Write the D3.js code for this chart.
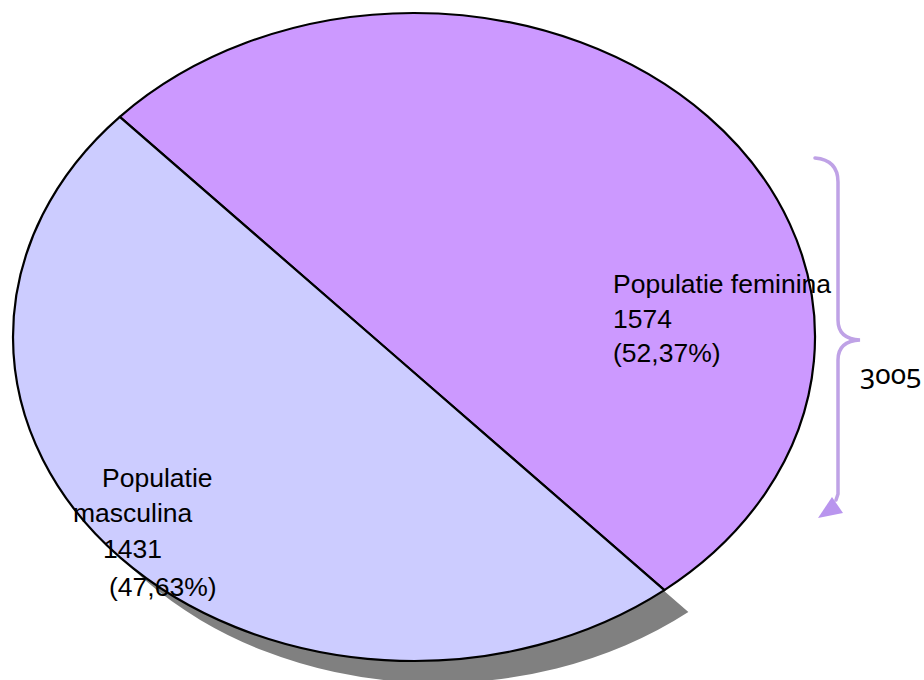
<!DOCTYPE html>
<html>
<head>
<meta charset="utf-8">
<script src="https://cdn.jsdelivr.net/npm/d3@7"></script>
<style>
  html, body { margin: 0; padding: 0; background: #fff; }
  svg { display: block; }
</style>
</head>
<body>
<div id="chart"></div>
<script>
// ---- data ----
const categories = ["Populatie feminina", "Populatie masculina"];
const values = [1574, 1431];
const percentLabels = ["(52,37%)", "(47,63%)"];
const sliceColors = ["#cc99ff", "#ccccff"];

const width = 924, height = 680;

// ellipse geometry (pie laid on an ellipse)
const cx = 414, cy = 337;
const rx = 401, ry = 324;
const startAngle = -47.2 * Math.PI / 180;
const shadow = { x: 24, y: 22 };

const svg = d3.select('#chart').append('svg')
  .attr('width', width)
  .attr('height', height);

const rows = categories.map((c, i) => ({ name: c, value: values[i], pct: percentLabels[i], color: sliceColors[i] }));

const pie = d3.pie()
  .sort(null)
  .value(d => d.value)
  .startAngle(startAngle)
  .endAngle(startAngle + 2 * Math.PI);
const arcs = pie(rows);

// pie angle (0 = 12 o'clock, clockwise) -> point on the ellipse
const ellPt = a => [cx + rx * Math.cos(a - Math.PI / 2), cy + ry * Math.sin(a - Math.PI / 2)];

// both slices share one straight chord, so the apex sits at the chord's middle
const chordA = ellPt(arcs[0].startAngle), chordB = ellPt(arcs[0].endAngle);
const apex = [(chordA[0] + chordB[0]) / 2, (chordA[1] + chordB[1]) / 2];

const slicePath = d => {
  const p0 = ellPt(d.startAngle), p1 = ellPt(d.endAngle);
  const large = (d.endAngle - d.startAngle) > Math.PI ? 1 : 0;
  const p = d3.path();
  p.moveTo(apex[0], apex[1]);
  p.lineTo(p0[0], p0[1]);
  return p.toString() + `A${rx},${ry} 0 ${large} 1 ${p1[0]},${p1[1]}Z`;
};

// shadow of the masculine slice only
svg.append('path')
  .attr('d', slicePath(arcs[1]))
  .attr('transform', `translate(${shadow.x},${shadow.y})`)
  .attr('fill', '#808080');

svg.append('g').selectAll('path.slice')
  .data(arcs)
  .enter().append('path')
  .attr('class', 'slice')
  .attr('d', slicePath)
  .attr('fill', d => d.data.color)
  .attr('stroke', '#000')
  .attr('stroke-width', 2.2)
  .attr('stroke-linejoin', 'round');

// ---- labels ----
const fontFamily = '"Liberation Sans", Arial, sans-serif';
const labelLines = [
  // feminina
  [
    { t: rows[0].name, x: 613, y: 293 },
    { t: String(rows[0].value), x: 613, y: 328 },
    { t: rows[0].pct, x: 613, y: 362 }
  ],
  // masculina
  [
    { t: rows[1].name.split(' ')[0], x: 102, y: 487 },
    { t: rows[1].name.split(' ')[1], x: 73, y: 522 },
    { t: String(rows[1].value), x: 103, y: 558 },
    { t: rows[1].pct, x: 109, y: 596 }
  ]
];

svg.append('g').selectAll('text')
  .data(labelLines.flat())
  .enter().append('text')
  .attr('x', d => d.x)
  .attr('y', d => d.y)
  .attr('font-family', fontFamily)
  .attr('font-size', 26.5)
  .attr('fill', '#000')
  .text(d => d.t);

// ---- brace with total ----
const braceColor = '#bfa2e6';
const bx = 838, tipX = 860, tipY = 340;
const braceTop = 158, braceBottom = 500;

svg.append('path')
  .attr('d', `M815,${braceTop} Q${bx},${braceTop + 2} ${bx},${braceTop + 24}`
    + ` L${bx},${tipY - 20} Q${bx},${tipY - 1} ${tipX},${tipY}`
    + ` Q${bx},${tipY + 1} ${bx},${tipY + 20}`
    + ` L${bx},${braceBottom - 6} L${bx - 2},${braceBottom}`)
  .attr('fill', 'none')
  .attr('stroke', braceColor)
  .attr('stroke-width', 3.5)
  .attr('stroke-linecap', 'round');

svg.append('path')
  .attr('d', `M818,518 L843,513 L832,497 Z`)
  .attr('fill', '#b995ee');

const total = d3.sum(values);
svg.append('text')
  .attr('x', 860)
  .attr('y', 384)
  .attr('font-family', '"Noto Sans", "Open Sans", sans-serif')
  .attr('font-size', 28)
  .style('font-variant-numeric', 'oldstyle-nums')
  .attr('fill', '#000')
  .text(total);
</script>
</body>
</html>
